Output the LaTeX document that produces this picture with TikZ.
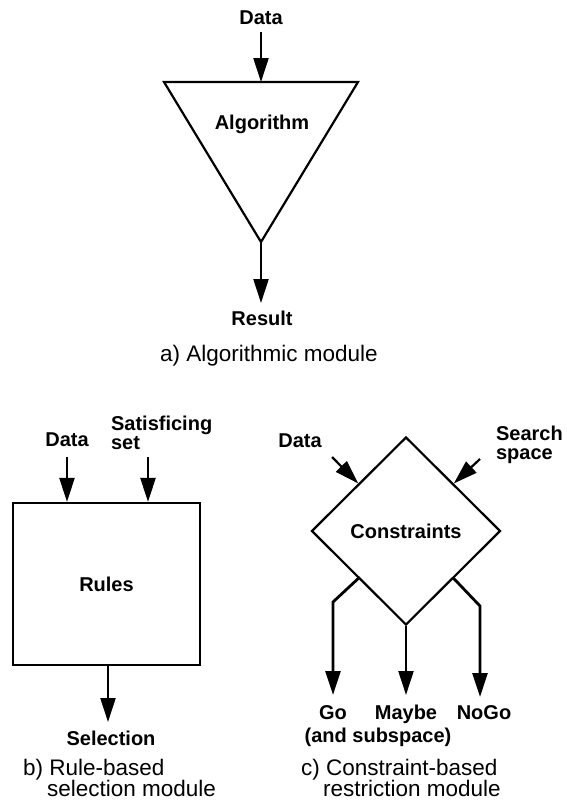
\documentclass[tikz,border=0pt]{standalone}
\usepackage{fontspec}
\setmainfont{Liberation Sans}
\usetikzlibrary{arrows.meta,shapes.geometric}
\tikzset{lbl/.style={font=\fontsize{20}{19}\selectfont\bfseries,inner sep=0pt,text height=14.5pt,text depth=0pt},
stack/.style={font=\fontsize{20}{19}\selectfont\bfseries,inner sep=0pt,align=left,anchor=north west},
modcap/.style={font=\fontsize{22.5}{21}\selectfont,inner sep=0pt,align=left},
arr/.style={-{Triangle[length=24pt,width=15pt]},line width=2.2pt},
outarr/.style={arr,line width=2.8pt}}

\begin{document}
\begin{tikzpicture}[x=1pt,y=-1pt,line width=2.2pt]
\useasboundingbox (0,0) rectangle (567,807);
% a) algorithmic module
\coordinate (A1) at (164,82);\coordinate (A2) at (358,82);\coordinate (A3) at (261,242);
\coordinate (a0) at (261,32);\coordinate (a1) at (261,303);
\draw (A1)--(A2)--(A3)--cycle;
\node[lbl] (alg) at (262,122) {Algorithm};
\node[lbl] (dataA) at (261,17) {Data};
\node[lbl] (res) at (262,318) {Result};
\node[modcap,anchor=base] (capA) at (269,361) {a) Algorithmic module};
\draw[arr] (a0)--(a0 |- A1);
\draw[arr] (A3)--(a1);
% b) rule-based module
\node[draw,lbl,minimum width=187pt,minimum height=162pt] (rules) at (106.5,584) {Rules};
\node[lbl] (dataB) at (67,439) {Data};
\node[stack] (satis) at (110,415) {Satisficing\\set};
\node[lbl] (sel) at (111,738) {Selection};
\node[modcap,anchor=north west] (capB) at (22,758) {b) Rule-based\\\hspace*{24pt}selection module};
\coordinate (b0) at (67,457);\coordinate (b1) at (148,457);\coordinate (b2) at (108,722);
\draw[arr] (b0)--(b0 |- rules.north);
\draw[arr] (b1)--(b1 |- rules.north);
\draw[arr] (b2 |- rules.south)--(b2);
% c) constraint-based module
\node[draw,diamond,lbl,minimum width=189pt,minimum height=188pt] (cons) at (406,531) {Constraints};
\node[lbl] (dataC) at (300,440) {Data};
\node[stack] (search) at (495,424.5) {Search\\space};
\node[lbl] (go) at (333,712) {Go};
\node[lbl] (maybe) at (406,712) {Maybe};
\node[lbl] (nogo) at (484,712) {NoGo};
\node[font=\fontsize{20}{19}\selectfont\bfseries,inner sep=0pt] (sub) at (378,737) {(and subspace)};
\node[modcap,anchor=north west] (capC) at (300,758) {c) Constraint-based\\\hspace*{22pt}restriction module};
\coordinate (c0) at (332,457);\coordinate (c1) at (480,459);
\coordinate (g1) at (333,602);\coordinate (g2) at (333,695);
\coordinate (m2) at (406,695);
\coordinate (n1) at (480,606);\coordinate (n2) at (480,697);
\draw[arr] (c0)--(cons.north west);
\draw[arr] (c1)--(cons.north east);
\draw[outarr] (cons.south west)--(g1)--(g2);
\draw[arr] (cons.south)--(m2);
\draw[outarr] (cons.south east)--(n1)--(n2);
\end{tikzpicture}
\end{document}
